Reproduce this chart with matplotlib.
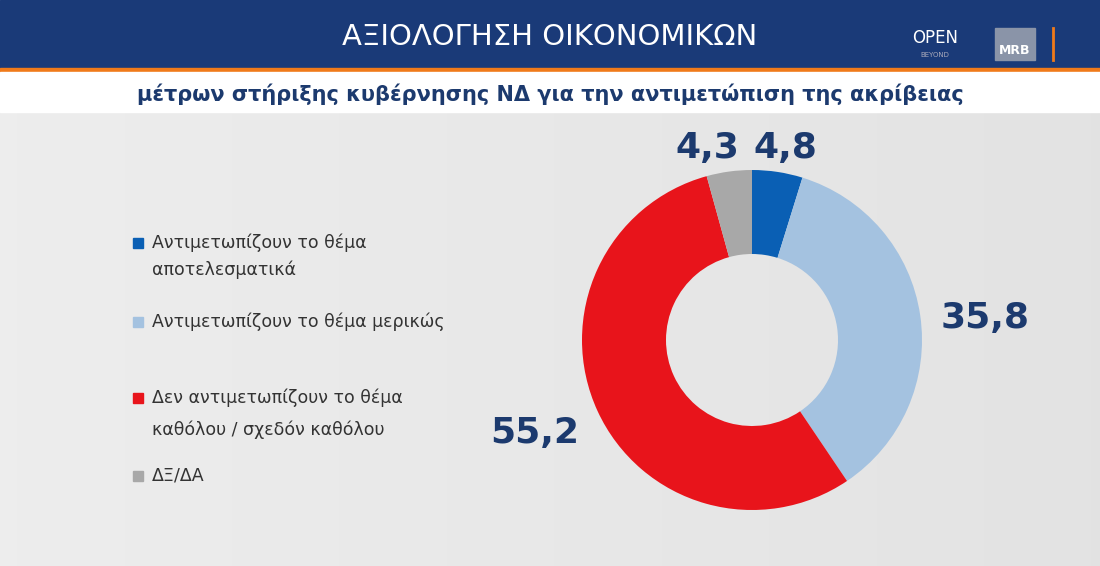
import matplotlib
matplotlib.use("Agg")
import matplotlib.pyplot as plt
import numpy as np
from matplotlib.patches import Rectangle

labels = ["Αντιμετωπίζουν το θέμα\nαποτελεσματικά", "Αντιμετωπίζουν το θέμα μερικώς",
          "Δεν αντιμετωπίζουν το θέμα\nκαθόλου / σχεδόν καθόλου", "ΔΞ/ΔΑ"]
values = [4.8, 35.8, 55.2, 4.3]
value_text = ["4,8", "35,8", "55,2", "4,3"]
colors = ["#0a5fb4", "#a4c2e0", "#e8141b", "#a8a8a8"]

W, H = 1100, 566
fig = plt.figure(figsize=(11, 5.66), dpi=100)
bg = fig.add_axes([0, 0, 1, 1])
bg.set_xlim(0, W); bg.set_ylim(H, 0); bg.axis("off")
grad = np.linspace(0, 1, 256)[None, :]
bg.imshow(np.dstack([0.93 - 0.04 * grad, 0.93 - 0.04 * grad, 0.93 - 0.04 * grad]),
          extent=[0, W, H, 112], aspect="auto")
bg.add_patch(Rectangle((0, 0), W, 68, color="#1a3a78"))
bg.add_patch(Rectangle((0, 68), W, 4, color="#f07a1a"))
bg.add_patch(Rectangle((0, 72), W, 40, color="white"))
bg.text(550, 37, "ΑΞΙΟΛΟΓΗΣΗ ΟΙΚΟΝΟΜΙΚΩΝ", color="white", fontsize=21, ha="center", va="center")
bg.text(550, 94, "μέτρων στήριξης κυβέρνησης ΝΔ για την αντιμετώπιση της ακρίβειας",
        color="#1c3a6e", fontsize=15, fontweight="bold", ha="center", va="center")
bg.text(935, 38, "OPEN", color="white", fontsize=12, ha="center", va="center")
bg.text(935, 55, "BEYOND", color="#aab", fontsize=5, ha="center", va="center")
bg.add_patch(Rectangle((995, 28), 40, 32, color="#8a94a8"))
bg.text(1015, 50, "MRB", color="white", fontsize=9, fontweight="bold", ha="center", va="center")
bg.plot([1053, 1053], [28, 60], color="#f07a1a", lw=2)

leg_y = [(243, 270), (322,), (398, 430), (476,)]
for lab, c, ys in zip(labels, colors, leg_y):
    bg.add_patch(Rectangle((133, ys[0] - 5), 10, 10, color=c))
    for line, y in zip(lab.split("\n"), ys):
        bg.text(152, y, line, fontsize=12.5, color="#333", va="center")

cx, cy, R = 752, 340, 170
ax = fig.add_axes([(cx - R) / W, 1 - (cy + R) / H, 2 * R / W, 2 * R / H])
ax.pie(values, colors=colors, startangle=90, counterclock=False,
       wedgeprops=dict(width=84 / R, edgecolor="none"))
ax.set_xlim(-1, 1); ax.set_ylim(-1, 1)
ax.set_aspect("equal"); ax.axis("off")

pos = [(785, 148), (985, 318), (535, 433), (707, 148)]
for t, (x, y) in zip(value_text, pos):
    bg.text(x, y, t, fontsize=26, fontweight="bold", color="#1c3a6e", ha="center", va="center")

fig.savefig("out.png", dpi=100)
